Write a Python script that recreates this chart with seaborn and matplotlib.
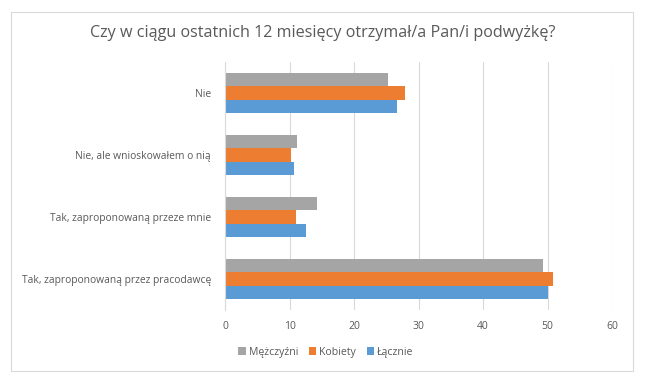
import matplotlib
matplotlib.use("Agg")
import matplotlib.pyplot as plt
import matplotlib.patches as mpatches
import seaborn as sns
import pandas as pd

categories = ["Nie", "Nie, ale wnioskowałem o nią", "Tak, zaproponowaną przeze mnie",
              "Tak, zaproponowaną przez pracodawcę"]
series = ["Mężczyźni", "Kobiety", "Łącznie"]
men = [25.3, 11.2, 14.2, 49.3]
women = [27.9, 10.2, 11.0, 50.9]
total = [26.6, 10.7, 12.6, 50.0]
x_ticks = [0, 10, 20, 30, 40, 50, 60]

colors = {"Mężczyźni": "#A5A5A5", "Kobiety": "#ED7D31", "Łącznie": "#5B9BD5"}

rows = []
for name, vals in zip(series, [men, women, total]):
    for cat, v in zip(categories, vals):
        rows.append({"kategoria": cat, "seria": name, "wartosc": v})
df = pd.DataFrame(rows)

sns.set_theme(style="white")
plt.rcParams["font.family"] = ["Open Sans", "DejaVu Sans"]
text_col = "#595959"

fig = plt.figure(figsize=(6.45, 3.85), dpi=100)
ax = fig.add_axes([225 / 645, 1 - 310 / 385, (612 - 225) / 645, (310 - 62) / 385])

sns.barplot(data=df, y="kategoria", x="wartosc", hue="seria", order=categories,
            hue_order=series, palette=colors, orient="h", width=0.63,
            saturation=1, linewidth=0, gap=0, ax=ax, legend=True)

ax.set_xlim(0, 60)
ax.set_xticks(x_ticks)
ax.set_xticklabels([str(t) for t in x_ticks], fontsize=7.5, color=text_col)
ax.tick_params(axis="y", labelsize=7.4, colors=text_col, length=0, pad=10)
ax.tick_params(axis="x", length=0, pad=8)
ax.set_xlabel("")
ax.set_ylabel("")
ax.xaxis.grid(True, color="#D9D9D9", linewidth=0.8)
ax.set_axisbelow(True)
for s in ["top", "right", "bottom"]:
    ax.spines[s].set_visible(False)
ax.spines["left"].set_color("#D9D9D9")
ax.spines["left"].set_linewidth(0.8)

handles, labels = ax.get_legend_handles_labels()
ax.legend_.remove()
fig.legend(handles, labels, loc="center", bbox_to_anchor=(326 / 645, 1 - 352 / 385),
           ncol=3, frameon=False, fontsize=7.6, handlelength=0.7, handleheight=0.7,
           handletextpad=0.3, columnspacing=1.0, labelcolor=text_col)

fig.text(0.5, 1 - 33 / 385, "Czy w ciągu ostatnich 12 miesięcy otrzymał/a Pan/i podwyżkę?",
         ha="center", va="center", fontsize=11.6, color=text_col)

border = mpatches.Rectangle((11 / 645, 1 - 371 / 385), (633 - 11) / 645, (371 - 12) / 385,
                            transform=fig.transFigure, fill=False, edgecolor="#D9D9D9",
                            linewidth=0.8)
fig.patches.append(border)

fig.savefig("out.png", dpi=100, facecolor="white")
